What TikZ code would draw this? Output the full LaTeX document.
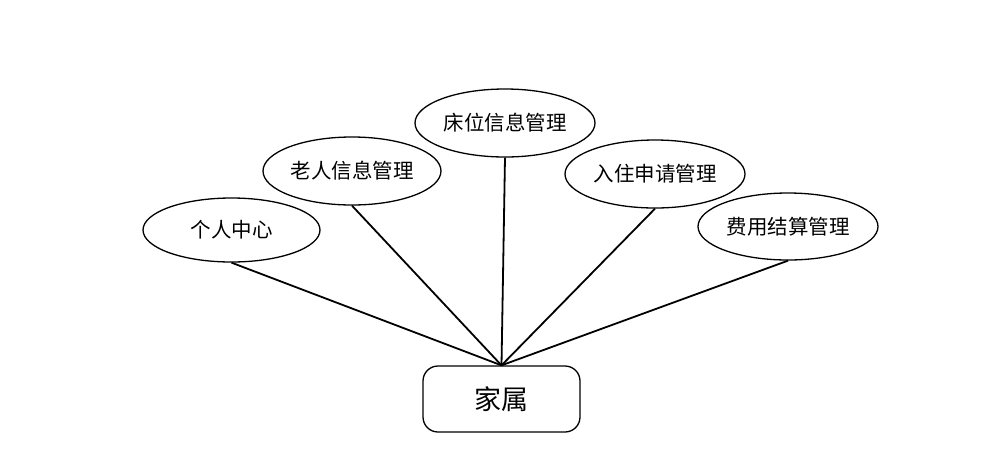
\documentclass[tikz,border=0pt]{standalone}
\usepackage{fontspec}
\newfontfamily\cjk{Noto Sans CJK SC}
\usetikzlibrary{shapes.geometric}
\begin{document}
\begin{tikzpicture}[x=1pt,y=-1pt,
  attr/.style={ellipse,draw=black,line width=1.3pt,fill=white,inner sep=0pt,font=\cjk\fontsize{20.5}{20.5}\selectfont},
  entity/.style={rectangle,rounded corners=15pt,draw=black,line width=1.3pt,fill=white,minimum width=157pt,minimum height=66pt,font=\cjk\fontsize{27}{27}\selectfont},
  link/.style={line width=1.8pt}]
\useasboundingbox (0,0) rectangle (986,456);
\node[entity] (fam) at (501.5,399) {家属};
\node[attr,minimum width=177pt,minimum height=64pt] (a1) at (231.5,230) {个人中心};
\node[attr,minimum width=178pt,minimum height=68pt] (a2) at (352,171) {老人信息管理};
\node[attr,minimum width=180pt,minimum height=68pt] (a3) at (505,123) {床位信息管理};
\node[attr,minimum width=180pt,minimum height=68pt] (a4) at (655,174) {入住申请管理};
\node[attr,minimum width=180pt,minimum height=67pt] (a5) at (788,226.5) {费用结算管理};
\foreach \n in {a1,a2,a3,a4,a5}{\draw[link] (\n.south) -- (fam.north);}
\end{tikzpicture}
\end{document}
